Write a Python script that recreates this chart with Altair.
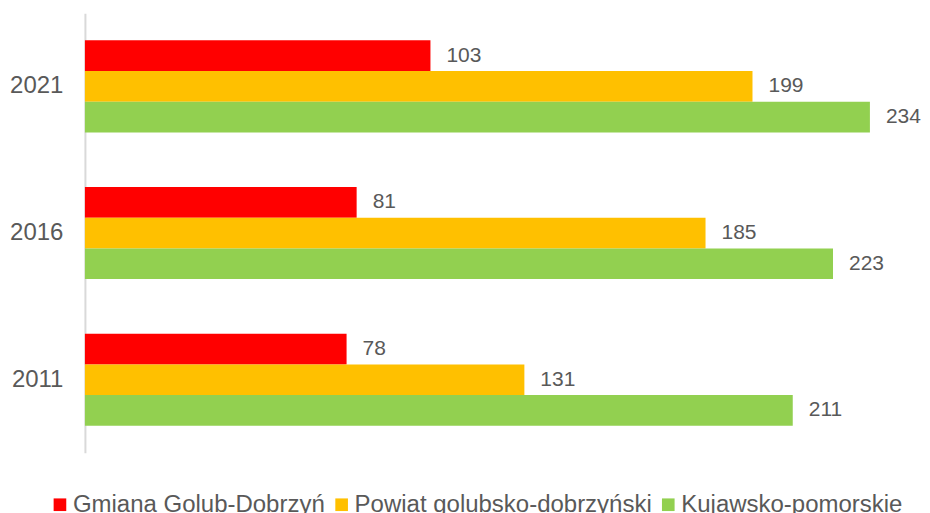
import altair as alt
import pandas as pd

years = ["2021", "2016", "2011"]
series = ["Gmiana Golub-Dobrzyń", "Powiat golubsko-dobrzyński", "Kujawsko-pomorskie"]
gmina = [103, 81, 78]
powiat = [199, 185, 131]
wojew = [234, 223, 211]
colors = ["#FF0000", "#FFC000", "#92D050"]

rows = []
for i, y in enumerate(years):
    for s, vals in zip(series, [gmina, powiat, wojew]):
        rows.append({"year": y, "series": s, "value": vals[i]})
df = pd.DataFrame(rows)

FONT = "Liberation Sans"
TXT = "#595959"

y_enc = alt.Y("year:N", sort=years,
              scale=alt.Scale(paddingInner=0.372, paddingOuter=0.184),
              axis=alt.Axis(title=None, ticks=False, labelFontSize=24, labelColor=TXT,
                            labelFont=FONT, labelPadding=22, domainColor="#D9D9D9",
                            domainWidth=2, grid=False))
yoff = alt.YOffset("series:N", sort=series, scale=alt.Scale(paddingInner=0, paddingOuter=0))
x_enc = alt.X("value:Q", scale=alt.Scale(domain=[0, 240], nice=False),
              axis=None)

base = alt.Chart(df)

bars = base.mark_bar().encode(
    x=x_enc,
    y=y_enc,
    yOffset=yoff,
    color=alt.Color("series:N", sort=series,
                    scale=alt.Scale(domain=series, range=colors),
                    legend=alt.Legend(title=None, orient="none", direction="horizontal",
                                      legendX=-37, legendY=480, symbolType="square",
                                      symbolSize=160, symbolStrokeWidth=0,
                                      labelFontSize=24, labelColor=TXT, labelFont=FONT,
                                      labelLimit=0, labelOffset=1, columnPadding=4,
                                      padding=0)),
)

labels = base.mark_text(align="left", baseline="middle", dx=16, fontSize=21,
                        font=FONT, color=TXT).encode(
    x=x_enc,
    y=y_enc,
    yOffset=yoff,
    text=alt.Text("value:Q"),
)

chart = alt.layer(bars, labels).properties(
    width=806,
    height=440,
    autosize="none",
    padding={"left": 77, "top": 5, "right": 32, "bottom": 60},
).configure(font=FONT).configure_view(stroke=None, strokeWidth=0)

chart.save("out.html", embed_options={"renderer": "svg", "actions": False})
